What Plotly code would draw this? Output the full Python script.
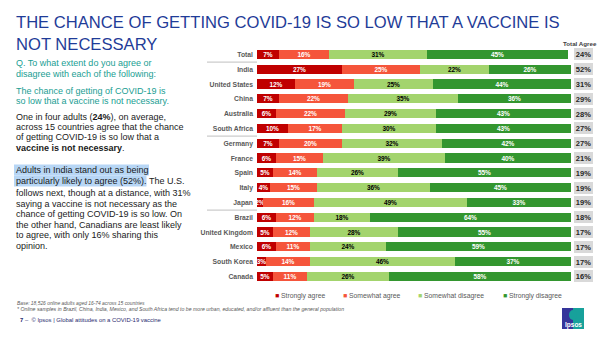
import plotly.graph_objects as go

countries = ["Total", "India", "United States", "China", "Australia", "South Africa",
             "Germany", "France", "Spain", "Italy", "Japan", "Brazil",
             "United Kingdom", "Mexico", "South Korea", "Canada"]
strongly_agree = [7, 27, 12, 7, 6, 10, 7, 6, 5, 4, 2, 6, 5, 6, 3, 5]
somewhat_agree = [16, 25, 19, 22, 22, 17, 20, 15, 14, 15, 16, 12, 12, 11, 14, 11]
somewhat_disagree = [31, 22, 25, 35, 29, 30, 32, 39, 26, 36, 49, 18, 28, 24, 46, 26]
strongly_disagree = [45, 26, 44, 36, 43, 43, 42, 40, 55, 45, 33, 64, 55, 59, 37, 58]
total_agree = [24, 52, 31, 29, 28, 27, 27, 21, 19, 19, 19, 18, 17, 17, 17, 16]

series = [
    ("Strongly agree", strongly_agree, "#c00000", "white"),
    ("Somewhat agree", somewhat_agree, "#f5553b", "white"),
    ("Somewhat disagree", somewhat_disagree, "#a3d46d", "black"),
    ("Strongly disagree", strongly_disagree, "#33962f", "white"),
]

W, H = 600, 338
def px(x): return x / W
def py(y): return 1 - y / H

FONT = "Liberation Sans, Arial, sans-serif"
fig = go.Figure()
for name, vals, col, tcol in series:
    fig.add_trace(go.Bar(
        name=name, y=countries, x=vals, orientation="h", marker=dict(color=col, line=dict(width=0)),
        width=0.62, text=[f"{v}%" for v in vals], textposition="inside", insidetextanchor="middle",
        textangle=0, constraintext="none",
        textfont=dict(color=tcol, size=6.5, family=FONT, weight="bold"),
        showlegend=False, hoverinfo="skip"))

fig.add_trace(go.Bar(
    y=countries, x=[1] * len(countries), orientation="h", xaxis="x2",
    marker=dict(color="#d9d9d9", line=dict(width=0)), width=0.82,
    text=[f"{v}%" for v in total_agree], textposition="inside", insidetextanchor="middle",
    textangle=0, constraintext="none",
    textfont=dict(color="#262626", size=7.5, family=FONT, weight="bold"),
    showlegend=False, hoverinfo="skip"))

top, bottom = 47.3, 284.1
fig.update_layout(
    width=W, height=H, margin=dict(l=0, r=0, t=0, b=0),
    paper_bgcolor="white", plot_bgcolor="white", barmode="stack", bargap=0,
    uniformtext=dict(minsize=6.5, mode="show"),
    font=dict(family=FONT),
    xaxis=dict(domain=[px(257), px(571)], range=[0, 100], visible=False, fixedrange=True),
    xaxis2=dict(domain=[px(574), px(593)], range=[0, 1], visible=False, anchor="y"),
    yaxis=dict(domain=[py(bottom), py(top)], categoryorder="array", categoryarray=countries,
               autorange="reversed", showgrid=False, zeroline=False, showline=False, ticks="",
               ticklabelstandoff=3,
               tickfont=dict(size=6.8, color="#595959", family=FONT, weight="bold")),
)

# separators between groups
for yv in [0.5, 5.5, 10.5]:
    fig.add_shape(type="line", xref="paper", yref="y", x0=px(207), x1=px(257), y0=yv, y1=yv,
                  line=dict(color="#bfbfbf", width=1))

anns = []
def txt(x, y, s, size, color, xanchor="left", **kw):
    anns.append(dict(x=px(x), y=py(y), xref="paper", yref="paper", text=s, showarrow=False,
                     xanchor=xanchor, yanchor="middle", align="left",
                     font=dict(size=size, color=color, family=FONT, **kw)))

TITLE = "#1f3c98"
txt(14, 33.5, "THE CHANCE OF GETTING COVID-19 IS SO LOW THAT A VACCINE IS<br>NOT NECESSARY", 16.6, TITLE)

TEAL = "#1a9e93"
txt(14, 62.5, "Q. To what extent do you agree or", 9, TEAL)
txt(14, 74, "disagree with each of the following:", 9, TEAL)
txt(14, 90.7, "The chance of getting of COVID-19 is", 9, TEAL)
txt(14, 100.5, "so low that a vaccine is not necessary.", 9, TEAL)

BLK = "#1a1a1a"
txt(14, 117, "One in four adults (<b>24%</b>), on average,", 9, BLK)
txt(14, 127, "across 15 countries agree that the chance", 9, BLK)
txt(14, 137, "of getting COVID-19 is so low that a", 9, BLK)
txt(14, 148, "<b>vaccine is not necessary</b>.", 9, BLK)

# highlight boxes
fig.add_shape(type="rect", xref="paper", yref="paper", x0=px(14), x1=px(149), y0=py(164.5), y1=py(175.5),
              fillcolor="#b7d6f5", line=dict(width=0), layer="below")
fig.add_shape(type="rect", xref="paper", yref="paper", x0=px(14), x1=px(146.5), y0=py(175.5), y1=py(186.5),
              fillcolor="#b7d6f5", line=dict(width=0), layer="below")
txt(14, 170, "Adults in India stand out as being", 9, BLK)
txt(14, 181, "particularly likely to agree (52%). The U.S.", 9, BLK)
txt(14, 193, "follows next, though at a distance, with 31%", 9, BLK)
txt(14, 203.5, "saying a vaccine is not necessary as the", 9, BLK)
txt(14, 214, "chance of getting COVID-19 is so low. On", 9, BLK)
txt(14, 224.5, "the other hand, Canadians are least likely", 9, BLK)
txt(14, 235, "to agree, with only 16% sharing this", 9, BLK)
txt(14, 245.5, "opinion.", 9, BLK)

txt(599, 43.5, "Total Agree", 6.2, "#404040", xanchor="right", weight="bold")

# legend
leg = [(274, "Strongly agree", "#c00000"), (342, "Somewhat agree", "#f5553b"),
       (417, "Somewhat disagree", "#a3d46d"), (502, "Strongly disagree", "#33962f")]
for x, name, col in leg:
    txt(x - 1, 295.7, f"<span style='color:{col}'>■</span> {name}", 6.8, "#595959")

txt(15, 303, "<i>Base: 18,526 online adults aged 16-74 across 15 countries</i>", 4.9, "#595959")
txt(15, 308.5, "<i>* Online samples in Brazil, China, India, Mexico, and South Africa tend to be more urban, educated, and/or affluent than the general population</i>", 5.2, "#595959")
txt(18, 319.7, "<b>7</b> –  © Ipsos | Global attitudes on a COVID-19 vaccine", 5.9, "#1f2a6e")

# logo
fig.add_shape(type="rect", xref="paper", yref="paper", x0=px(562), x1=px(573), y0=py(329), y1=py(308),
              fillcolor="#35359a", line=dict(width=0))
fig.add_shape(type="rect", xref="paper", yref="paper", x0=px(573), x1=px(584), y0=py(329), y1=py(308),
              fillcolor="#17a19b", line=dict(width=0))
fig.add_shape(type="circle", xref="paper", yref="paper", x0=px(569), x1=px(577), y0=py(320), y1=py(310),
              fillcolor="#17a19b", line=dict(width=0))
txt(573, 324.5, "Ipsos", 6.5, "white", xanchor="center", weight="bold")

fig.update_layout(annotations=anns)
fig.write_html("out.html")
